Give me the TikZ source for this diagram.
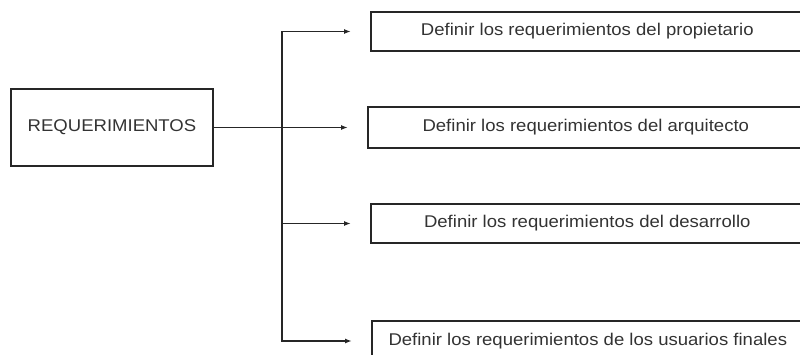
\documentclass[tikz,border=0pt]{standalone}
\usepackage{fontspec}
\setmainfont{Liberation Sans}[FakeStretch=1.09]
\usetikzlibrary{arrows.meta}
\definecolor{ink}{HTML}{262626}
\definecolor{txt}{HTML}{333333}
\tikzset{
  box/.style={draw=ink, line width=1.6pt, rectangle, inner sep=0pt, text=txt,
    font=\fontsize{17}{20}\selectfont},
  rbox/.style={box, anchor=west, minimum width=433pt},
  conn/.style={draw=ink, line width=1.5pt},
  arr/.style={conn, -{Latex[length=7pt,width=5pt]}, shorten >=19pt}
}
\begin{document}
\begin{tikzpicture}[x=1pt,y=-1pt]
\useasboundingbox (0,0) rectangle (800,354);
\clip (0,0) rectangle (800,354);
\node[box, minimum width=202pt, minimum height=77pt] (req) at (112,127.5) {REQUERIMIENTOS};
\node[rbox, minimum height=39pt] (b1) at (370,31.5) {Definir los requerimientos del propietario};
\node[rbox, minimum height=41pt, minimum width=436pt] (b2) at (367,127.5) {Definir los requerimientos del arquitecto};
\node[rbox, minimum height=39pt] (b3) at (370,223.5) {Definir los requerimientos del desarrollo};
\node[rbox, minimum height=40pt, minimum width=432pt] (b4) at (371,341) {Definir los requerimientos de los usuarios finales};
\coordinate (j) at (282,127.5);
\draw[conn] (req.east) -- (j);
\draw[arr] (j) |- (b1.west);
\draw[arr] (j) -- (b2.west);
\draw[arr] (j) |- (b3.west);
\draw[arr] (j) |- (b4.west);
\end{tikzpicture}
\end{document}
